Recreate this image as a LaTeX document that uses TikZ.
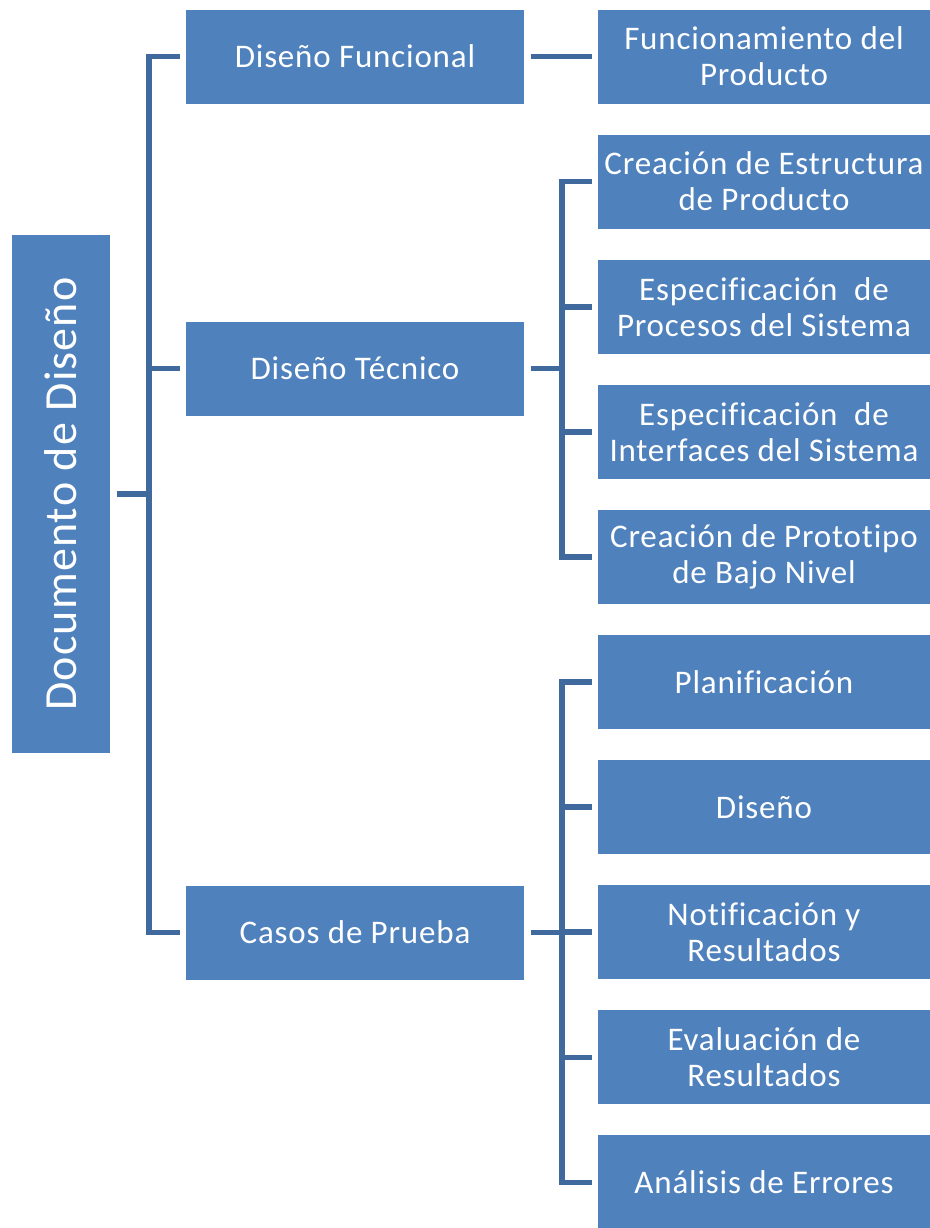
\documentclass[tikz,border=0pt]{standalone}
\usepackage{fontspec}
\setmainfont{Carlito}[Ligatures=NoCommon, LetterSpace=2.5]
\usepackage{tikz}
\usetikzlibrary{positioning, calc}
\definecolor{boxblue}{RGB}{79,129,189}
\definecolor{linkblue}{RGB}{64,105,158}
\tikzset{
  rootbox/.style={rectangle, fill=boxblue, minimum width=49pt,
    minimum height=259pt, inner sep=0pt, text=white,
    font=\fontsize{23}{27}\selectfont},
  topicbox/.style={rectangle, fill=boxblue, minimum width=169pt,
    minimum height=47pt, inner sep=0pt, text=white, align=center,
    font=\fontsize{16.5}{18}\selectfont},
  itembox/.style={rectangle, fill=boxblue, minimum width=166pt,
    minimum height=47pt, inner sep=0pt, text=white, align=center,
    font=\fontsize{16.5}{18}\selectfont},
  link/.style={line width=2.8pt, color=linkblue,
    shorten <=3.5pt, shorten >=3pt}
}

\begin{document}
\begin{tikzpicture}[x=0.5pt, y=-0.5pt]
  \useasboundingbox (0,0) rectangle (930,1228);
  % Root
  \node[rootbox] (doc) at (61,494) {\rotatebox{90}{Documento de Diseño}};
  % First level
  \node[topicbox] (fun) at (355,56.5) {Diseño Funcional};
  \node[topicbox] (tec) at (355,368.5) {Diseño Técnico};
  \node[topicbox] (cas) at (355,932.5) {Casos de Prueba};
  % Second level
  \node[itembox] (prod) at (764,56.5) {Funcionamiento del\\Producto};
  \node[itembox] (est) at (764,181.6) {Creación de Estructura\\de Producto};
  \node[itembox] (proc) at (764,306.7) {Especificación~ de\\Procesos del Sistema};
  \node[itembox] (intf) at (764,431.8) {Especificación~ de\\Interfaces del Sistema};
  \node[itembox] (proto) at (764,556.9) {Creación de Prototipo\\de Bajo Nivel};
  \node[itembox] (plan) at (764,682) {Planificación};
  \node[itembox] (dis) at (764,807.1) {Diseño};
  \node[itembox] (notif) at (764,932.2) {Notificación y\\Resultados};
  \node[itembox] (eval) at (764,1057.3) {Evaluación de\\Resultados};
  \node[itembox] (err) at (764,1182.4) {Análisis de Errores};
  % Bus lines
  \coordinate (bus1) at (149,0);
  \coordinate (bus2) at (562,0);
  \foreach \n in {fun,tec,cas}
    \draw[link] (doc.east) -- (bus1 |- doc.east) |- (\n.west);
  \draw[link] (fun.east) -- (prod.west);
  \foreach \n in {est,proc,intf,proto}
    \draw[link] (tec.east) -- (bus2 |- tec.east) |- (\n.west);
  \foreach \n in {plan,dis,notif,eval,err}
    \draw[link] (cas.east) -- (bus2 |- cas.east) |- (\n.west);
\end{tikzpicture}
\end{document}
